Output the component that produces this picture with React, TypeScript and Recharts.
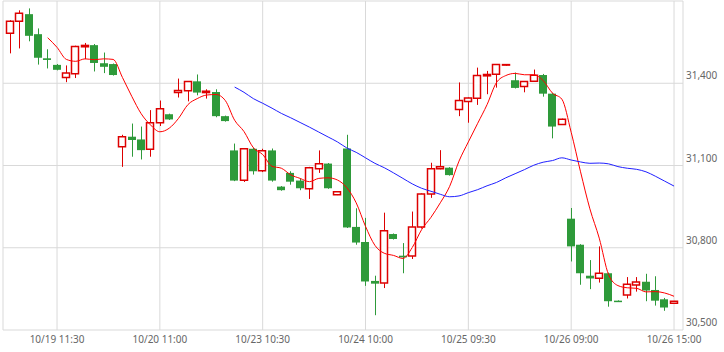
import React from "react";
import { ComposedChart, Bar, Line, XAxis, YAxis, CartesianGrid } from "recharts";

// 30-minute bars, 12 per session day
const days = ["10/19", "10/20", "10/23", "10/24", "10/25", "10/26"];
const sessionTimes = ["09:00", "09:30", "10:00", "10:30", "11:00", "11:30", "12:30", "13:00", "13:30", "14:00", "14:30", "15:00"];
const xTicks = ["10/19 11:30", "10/20 11:00", "10/23 10:30", "10/24 10:00", "10/25 09:30", "10/26 09:00", "10/26 15:00"];
const yTicks = [30500, 30800, 31100, 31400, 31700];

const opens = [
  31582, 31626, 31652, 31579, 31491, 31467, 31421, 31435, 31533, 31539, 31473, 31470,
  31168, 31205, 31195, 31159, 31256, 31287, 31366, 31373, 31407, 31366, 31368, 31280,
  31155, 31046, 31161, 31081, 31155, 31023, 31073, 31045, 31015, 31088, 31107, 30993,
  31162, 30876, 30821, 30679, 30671, 30850, 30771, 30770, 30876, 30996, 31088, 31092,
  31304, 31333, 31345, 31427, 31433, 31467, 31411, 31388, 31407, 31430, 31362, 31250,
  30906, 30811, 30698, 30689, 30707, 30607, 30628, 30664, 30676, 30646, 30612, 30598,
];
const highs = [
  31630, 31666, 31673, 31600, 31524, 31470, 31465, 31537, 31547, 31543, 31512, 31472,
  31212, 31253, 31242, 31302, 31337, 31289, 31417, 31408, 31432, 31378, 31378, 31282,
  31180, 31163, 31165, 31161, 31162, 31025, 31079, 31052, 31095, 31155, 31109, 31005,
  31212, 30944, 30909, 30698, 30928, 30852, 30817, 30932, 30998, 31110, 31156, 31094,
  31403, 31348, 31457, 31445, 31470, 31470, 31439, 31408, 31450, 31434, 31364, 31271,
  30945, 30813, 30755, 30805, 30709, 30608, 30693, 30693, 30705, 30696, 30617, 30606,
];
const lows = [
  31509, 31527, 31553, 31468, 31454, 31447, 31404, 31419, 31488, 31443, 31437, 31428,
  31095, 31132, 31122, 31132, 31244, 31266, 31348, 31334, 31356, 31344, 31276, 31260,
  31043, 31040, 31067, 31076, 31041, 31008, 31030, 31010, 30978, 31073, 31015, 30992,
  30872, 30811, 30661, 30554, 30653, 30830, 30707, 30759, 30870, 30982, 31086, 31063,
  31280, 31256, 31321, 31360, 31384, 31464, 31381, 31367, 31405, 31351, 31199, 31248,
  30750, 30665, 30649, 30673, 30585, 30604, 30615, 30640, 30605, 30589, 30570, 30597,
];
const closes = [
  31626, 31655, 31573, 31493, 31485, 31449, 31437, 31534, 31538, 31474, 31460, 31430,
  31205, 31193, 31156, 31256, 31307, 31268, 31374, 31406, 31366, 31371, 31280, 31262,
  31045, 31161, 31079, 31154, 31045, 31010, 31041, 31017, 31092, 31106, 31017, 31004,
  30874, 30819, 30677, 30669, 30862, 30832, 30765, 30876, 30996, 31088, 31095, 31065,
  31337, 31346, 31428, 31432, 31468, 31468, 31383, 31406, 31429, 31362, 31242, 31269,
  30805, 30707, 30688, 30707, 30605, 30605, 30667, 30675, 30644, 30607, 30582, 30605,
];

// moving averages as shown (5 and 25 bars), starting at bar 4 and bar 24
const ma5Start = 4;
const ma5 = [
  31566, 31531, 31487, 31480, 31489, 31486, 31489, 31487,
  31421, 31352, 31289, 31248, 31223, 31236, 31272, 31322, 31344, 31357, 31359, 31337,
  31265, 31224, 31165, 31140, 31097, 31090, 31066, 31053, 31041, 31053, 31055, 31047,
  31019, 30964, 30878, 30809, 30780, 30772, 30761, 30801, 30866, 30911, 30964, 31024,
  31116, 31186, 31254, 31322, 31402, 31428, 31436, 31431, 31431, 31410, 31364, 31342,
  31221, 31077, 30942, 30835, 30702, 30662, 30654, 30652, 30639, 30640, 30635, 30623,
];
const ma25Start = 24;
const ma25 = [
  31386, 31367, 31344, 31327, 31309, 31290, 31274, 31257, 31240, 31222, 31204, 31186,
  31164, 31148, 31128, 31108, 31092, 31073, 31053, 31033, 31017, 31006, 30995, 30986,
  30989, 31001, 31012, 31026, 31038, 31055, 31070, 31085, 31101, 31112, 31118, 31128,
  31120, 31113, 31108, 31109, 31106, 31096, 31090, 31086, 31077, 31061, 31043, 31025,
];

const categories = days.flatMap((d) => sessionTimes.map((t) => `${d} ${t}`));

const data = categories.map((time, i) => ({
  time,
  open: opens[i],
  high: highs[i],
  low: lows[i],
  close: closes[i],
  ma5: i >= ma5Start ? ma5[i - ma5Start] : null,
  ma25: i >= ma25Start ? ma25[i - ma25Start] : null,
}));

const UP = "#dd0000";
const DOWN = "#2e9a3a";
const GRID = "#d9d9d9";
const FONT = "'Noto Sans', sans-serif";

function Candle(props: any) {
  const { x, y, width, height, payload } = props;
  if (payload == null || height == null) return <g />;
  const { open, close, high, low } = payload;
  const center = x + width / 2;
  const toY = (v: number) => y + ((high - v) / (high - low)) * height;
  const up = close >= open;
  const color = up ? UP : DOWN;
  const top = toY(Math.max(open, close));
  const bottom = toY(Math.min(open, close));
  const wx = Math.round(center) + 0.5;
  const left = Math.round(center - 4);
  if (up) {
    return (
      <g>
        <line x1={wx} x2={wx} y1={y} y2={y + height} stroke={color} strokeWidth={1} />
        <path
          d={`M${left + 0.5},${top} H${left + 7.5} V${Math.max(bottom, top + 0.5)} H${left + 0.5} Z`}
          fill="#fff"
          stroke={color}
          strokeWidth={1.5}
        />
      </g>
    );
  }
  return (
    <g>
      <line x1={wx} x2={wx} y1={y} y2={y + height} stroke={color} strokeWidth={1} />
      <rect x={left} y={top} width={8} height={Math.max(1.5, bottom - top)} fill={color} />
    </g>
  );
}

function PriceTick({ x, y, payload }: any) {
  if (payload.value >= 31700) return <g />;
  return (
    <text x={x} y={y - 4} fill="#666" fontSize={10} fontFamily={FONT} textAnchor="start">
      {payload.value.toLocaleString("en-US")}
    </text>
  );
}

function TimeTick({ x, y, payload }: any) {
  return (
    <text x={x} y={y + 13} fill="#666" fontSize={10} fontFamily={FONT} textAnchor="middle">
      {payload.value}
    </text>
  );
}

export default function App() {
  return (
    <div style={{ position: "absolute", left: 0, top: 0, background: "#fff" }}>
      <ComposedChart width={724} height={352} data={data} margin={{ top: 1, right: 0, bottom: 0, left: 3 }}>
        <CartesianGrid stroke={GRID} yAxisId="price" />
        <XAxis
          dataKey="time"
          ticks={xTicks}
          interval={0}
          height={22}
          padding={{ left: 2.6, right: 4.3 }}
          axisLine={false}
          tickLine={false}
          tickSize={0}
          tickMargin={0}
          tick={<TimeTick />}
        />
        <YAxis
          yAxisId="frame"
          orientation="left"
          width={0}
          domain={[0, 1]}
          tick={false}
          tickLine={false}
          axisLine={{ stroke: GRID }}
        />
        <YAxis
          yAxisId="price"
          orientation="right"
          width={41}
          domain={[30500, 31700]}
          ticks={yTicks}
          interval={0}
          axisLine={false}
          tickLine={false}
          tickSize={0}
          tickMargin={3}
          tick={<PriceTick />}
        />
        <Bar
          yAxisId="price"
          dataKey={(d: any) => [d.low, d.high]}
          shape={<Candle />}
          isAnimationActive={false}
        />
        <Line
          yAxisId="price"
          type="monotone"
          dataKey="ma5"
          stroke="#ff0000"
          strokeWidth={1}
          dot={false}
          connectNulls={false}
          isAnimationActive={false}
        />
        <Line
          yAxisId="price"
          type="monotone"
          dataKey="ma25"
          stroke="#2020ff"
          strokeWidth={1}
          dot={false}
          isAnimationActive={false}
        />
      </ComposedChart>
    </div>
  );
}
